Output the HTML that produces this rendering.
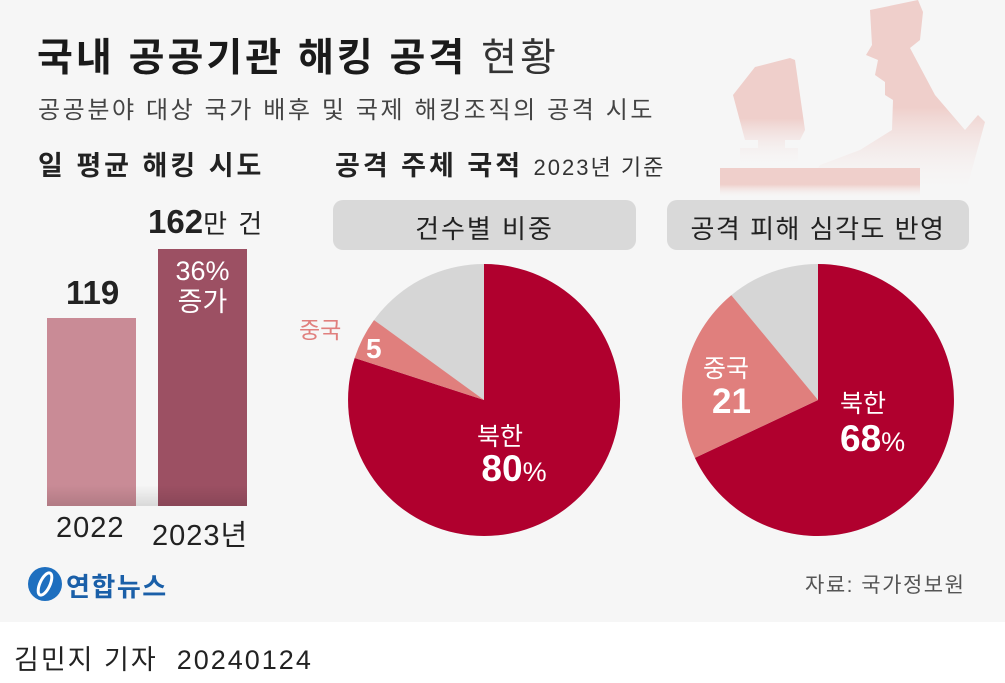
<!DOCTYPE html>
<html><head><meta charset="utf-8"><style>
body{margin:0;width:1005px;height:683px;background:#fff;font-family:"Liberation Sans","Noto Sans CJK KR",sans-serif;overflow:hidden}
.main{position:absolute;left:0;top:0;width:1005px;height:622px;background:#f6f6f6}
.t{position:absolute;white-space:nowrap;color:#222}
</style></head><body>
<div class="main"></div>
<svg width="1005" height="683" style="position:absolute;left:0;top:0">
<defs>
<linearGradient id="fade" x1="0" y1="0" x2="0" y2="1">
<stop offset="0.55" stop-color="#efcfcb" stop-opacity="1"/><stop offset="1" stop-color="#f6f6f6" stop-opacity="0"/></linearGradient>
<linearGradient id="sh" x1="0" y1="0" x2="0" y2="1"><stop offset="0" stop-color="#000" stop-opacity="0"/><stop offset="1" stop-color="#000" stop-opacity="0.12"/></linearGradient>
</defs>
<g fill="url(#fade)">
<path d="M755 67 L790 58 L795 60 L805 130 L800 140 L785 140 L785 148 L798 148 L798 168 L740 168 L740 148 L758 148 L758 140 L745 140 L733 95 Z"/>
<path d="M870 10 L918 0 L923 12 L920 40 L910 48 L935 95 L965 130 L978 115 L985 122 L965 195 L800 195 L820 165 L860 150 L892 130 L893 100 L885 95 L885 82 L875 75 L878 60 L866 55 L872 45 Z"/>
<rect x="720" y="168" width="200" height="30"/>
</g>
<rect x="333" y="200" width="303" height="50" rx="10" fill="#d9d9d9"/>
<rect x="667" y="200" width="302" height="50" rx="10" fill="#d9d9d9"/>
<rect x="47" y="318" width="89" height="188" fill="#c98b96"/>
<rect x="158" y="249" width="89" height="257" fill="#9c5063"/>
<rect x="47" y="485" width="200" height="21" fill="url(#sh)"/>
<circle cx="484" cy="400" r="136" fill="#d6d6d6"/>
<path d="M484 400 L484 264 A136 136 0 1 1 354.7 358 Z" fill="#b0002e"/>
<path d="M484 400 L354.7 358 A136 136 0 0 1 374 320.1 Z" fill="#e07f7d"/>
<circle cx="818" cy="400" r="136" fill="#d6d6d6"/>
<path d="M818 400 L818 264 A136 136 0 1 1 694.9 457.9 Z" fill="#b0002e"/>
<path d="M818 400 L694.9 457.9 A136 136 0 0 1 731.3 295.2 Z" fill="#e07f7d"/>
<circle cx="45" cy="584" r="17" fill="#1e6fbf"/>
<ellipse cx="45" cy="584" rx="5" ry="12" fill="none" stroke="#fff" stroke-width="3" transform="rotate(25 45 584)"/>
</svg>
<div class="t" style="left:37px;top:27px;font-size:39px;letter-spacing:3px;font-weight:bold;color:#1a1a1a">국내 공공기관 해킹 공격 <span style="font-weight:normal;color:#333">현황</span></div>
<div class="t" style="left:38px;top:90px;font-size:24px;letter-spacing:2.6px;color:#444">공공분야 대상 국가 배후 및 국제 해킹조직의 공격 시도</div>
<div class="t" style="left:38px;top:144px;font-size:27px;letter-spacing:3px;font-weight:bold">일 평균 해킹 시도</div>
<div class="t" style="left:335px;top:144px;font-size:27px;letter-spacing:3px;font-weight:bold">공격 주체 국적 <span style="font-size:22px;letter-spacing:2px;font-weight:normal;color:#333">2023년 기준</span></div>
<div class="t" style="left:333px;width:303px;text-align:center;top:209px;font-size:26px;letter-spacing:2px">건수별 비중</div>
<div class="t" style="left:667px;width:302px;text-align:center;top:209px;font-size:26px;letter-spacing:1.5px">공격 피해 심각도 반영</div>
<div class="t" style="left:66px;top:274px;font-size:33px;font-weight:bold">119</div>
<div class="t" style="left:148px;top:203px;font-size:33px;font-weight:bold">162<span style="font-size:26px;font-weight:normal;letter-spacing:2px">만 건</span></div>
<div class="t" style="left:158px;width:89px;text-align:center;top:256px;font-size:27px;line-height:31px;color:#fff">36%<br>증가</div>
<div class="t" style="left:56px;top:512px;font-size:29px;letter-spacing:1px">2022</div>
<div class="t" style="left:152px;top:512px;font-size:29px;letter-spacing:1px">2023년</div>
<div class="t" style="left:299px;top:311px;font-size:23px;color:#e07f7d">중국</div>
<div class="t" style="left:366px;top:333px;font-size:28px;font-weight:bold;color:#fff">5</div>
<div class="t" style="left:470px;top:417px;width:60px;text-align:center;font-size:25px;color:#fff">북한</div>
<div class="t" style="left:474px;top:448px;width:80px;text-align:center;font-size:37px;font-weight:bold;color:#fff">80<span style="font-size:27px;font-weight:normal">%</span></div>
<div class="t" style="left:703px;top:349px;font-size:25px;color:#fff">중국</div>
<div class="t" style="left:712px;top:382px;font-size:35px;font-weight:bold;color:#fff">21</div>
<div class="t" style="left:840px;top:384px;font-size:25px;color:#fff">북한</div>
<div class="t" style="left:840px;top:418px;font-size:37px;font-weight:bold;color:#fff">68<span style="font-size:27px;font-weight:normal">%</span></div>
<div class="t" style="left:66px;top:567px;font-size:26px;letter-spacing:1.5px;font-weight:bold;color:#1a5fa8">연합뉴스</div>
<div class="t" style="left:805px;top:569px;font-size:21px;letter-spacing:1.5px;color:#555">자료: 국가정보원</div>
<div class="t" style="left:14px;top:638px;font-size:27px;letter-spacing:2px;color:#222">김민지 기자 &nbsp;20240124</div>
</body></html>
